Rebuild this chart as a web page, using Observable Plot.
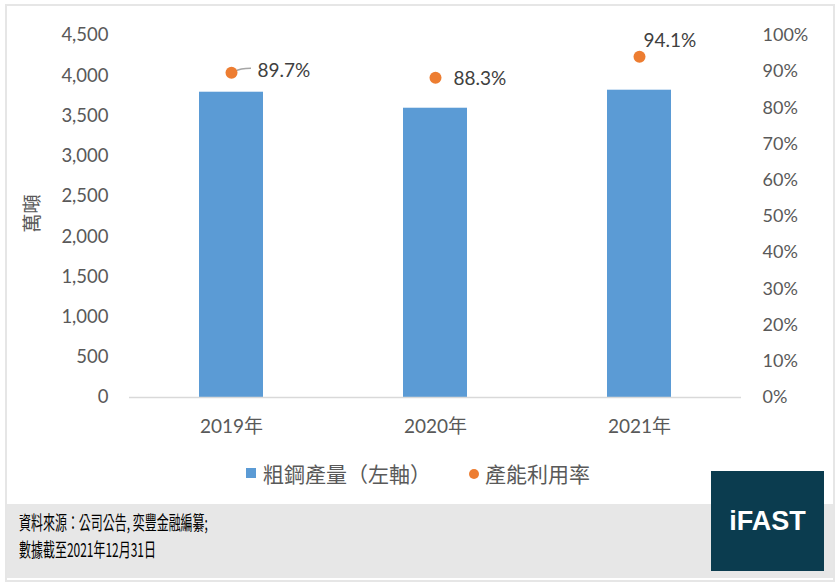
<!DOCTYPE html>
<html>
<head>
<meta charset="utf-8">
<script src="https://cdn.jsdelivr.net/npm/d3@7"></script>
<script src="https://cdn.jsdelivr.net/npm/@observablehq/plot@0.6"></script>
<style>
  body { margin:0; width:839px; height:587px; background:#fff; position:relative; overflow:hidden; font-family:"Noto Sans CJK TC", sans-serif; }
  #frame { position:absolute; left:5px; top:4px; width:826px; height:574px; border:2px solid #e6e6e6; box-sizing:content-box; }
  #footer { position:absolute; left:7px; top:504px; width:826px; height:74px; background:#e7e7e7; }
  #chart { position:absolute; left:0; top:0; }
  .leg { position:absolute; font-size:21px; color:#595959; line-height:26px; top:460px; white-space:nowrap; }
  .sw-sq { position:absolute; left:246px; top:468px; width:10px; height:10px; background:#5B9BD5; }
  .sw-ci { position:absolute; left:469px; top:469px; width:10px; height:10px; border-radius:50%; background:#ED7D31; }
  #source { position:absolute; left:19px; top:508px; font-size:19px; line-height:27px; color:#000; transform:scaleX(0.63); transform-origin:left top; white-space:nowrap; }
  #logo { position:absolute; left:711px; top:471px; width:113px; height:100px; background:#0b3c4f; color:#fff; font-family:"Liberation Sans", Arial, sans-serif; font-weight:bold; font-size:27px; display:flex; align-items:center; justify-content:center; }
</style>
</head>
<body>
<div id="frame"></div>
<div id="footer"></div>
<div id="chart"></div>
<div class="sw-sq"></div><div class="leg" style="left:263px">粗鋼產量（左軸）</div>
<div class="sw-ci"></div><div class="leg" style="left:485px">產能利用率</div>
<div id="source">資料來源：公司公告, 奕豐金融編纂;<br>數據截至2021年12月31日</div>
<div id="logo">iFAST</div>
<script>
const years = ["2019年", "2020年", "2021年"];
const crudeSteel = [3795, 3596, 3820];          // 萬噸
const utilization = [89.7, 88.3, 94.1];          // %
const leftTicks = [0, 500, 1000, 1500, 2000, 2500, 3000, 3500, 4000, 4500];
const rightTicks = [0, 10, 20, 30, 40, 50, 60, 70, 80, 90, 100];
const yMax = 4500;
const pctToY = p => p / 100 * yMax;

const data = years.map((year, i) => ({year, output: crudeSteel[i], rate: utilization[i]}));

const labelFont = 'Lato, "Noto Sans CJK TC", sans-serif';

function rateLabel(i, dx, dy) {
  return Plot.text(data.filter((d, j) => j === i), {
    x: "year", y: d => pctToY(d.rate), text: d => d.rate.toFixed(1) + "%",
    textAnchor: "start", lineAnchor: "middle", dx, dy, fontSize: 19, fill: "#404040"
  });
}

const leader = (index, scales) => {
  const d = data[0];
  const sx = scales.x;
  const bw = typeof sx.bandwidth === "function" ? sx.bandwidth() : (sx.bandwidth || 0);
  const x = sx(d.year) + bw / 2;
  const y = scales.y(pctToY(d.rate));
  const p = document.createElementNS("http://www.w3.org/2000/svg", "path");
  p.setAttribute("d", `M${x + 4},${y - 1} Q${x + 9},${y - 4} ${x + 20},${y - 4}`);
  p.setAttribute("fill", "none");
  p.setAttribute("stroke", "#a6a6a6");
  p.setAttribute("stroke-width", "1.5");
  return p;
};

const chart = Plot.plot({
  width: 839,
  height: 440,
  marginLeft: 129,
  marginRight: 98,
  marginTop: 35,
  marginBottom: 43,
  style: {fontFamily: labelFont, fontSize: "18px", color: "#595959", background: "transparent"},
  x: {domain: years, paddingInner: 0.686, paddingOuter: 0.343},
  y: {domain: [0, yMax]},
  marks: [
    Plot.axisY(leftTicks, {anchor: "left", tickSize: 0, tickPadding: 21, tickFormat: d3.format(","), label: null, fontSize: 18.5}),
    Plot.axisY(rightTicks.map(pctToY), {anchor: "right", tickSize: 0, tickPadding: 21, tickFormat: d => Math.round(d / yMax * 100) + "%", label: null, fontSize: 18}),
    Plot.axisX({tickSize: 0, tickPadding: 22, label: null, fontSize: 19}),
    Plot.text(["萬噸"], {frameAnchor: "left", rotate: -90, dx: -97, dy: 16, fontSize: 19, fill: "#595959", fontFamily: '"Noto Sans CJK TC", sans-serif'}),
    Plot.barY(data, {x: "year", y: "output", fill: "#5B9BD5"}),
    Plot.ruleY([0], {stroke: "#d9d9d9", strokeWidth: 1.5}),
    leader,
    Plot.dot(data, {x: "year", y: d => pctToY(d.rate), r: 6, fill: "#ED7D31"}),
    rateLabel(0, 26, -2),
    rateLabel(1, 18, 1),
    rateLabel(2, 4, -16)
  ]
});
document.getElementById("chart").appendChild(chart);
</script>
</body>
</html>
